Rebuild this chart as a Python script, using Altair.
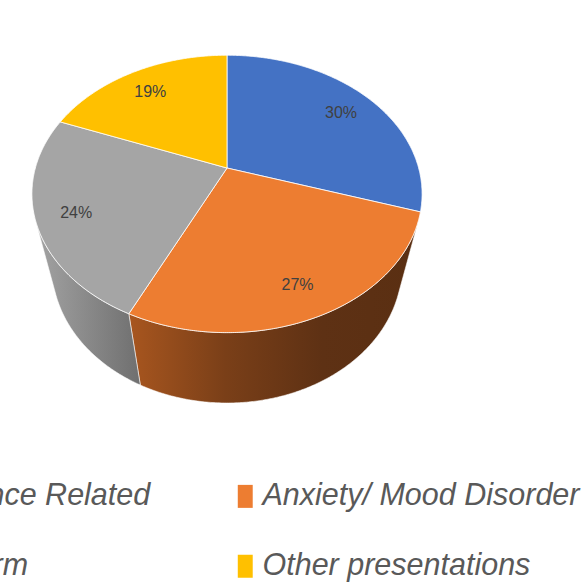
import math
import altair as alt

# Presentation categories and their shares (%)
categories = ["Substance Related", "Anxiety/ Mood Disorder", "Self Harm", "Other presentations"]
shares = [30, 27, 24, 19]

top_colors = ["#4472C4", "#ED7D31", "#A5A5A5", "#FFC000"]
wall_colors = {
    "Substance Related": ["#2F5597", "#203864"],
    "Anxiety/ Mood Disorder": ["#A8561F", "#7A3F18", "#5E3114", "#5A2F12"],
    "Self Harm": ["#A3A3A3", "#6F6F6F"],
    "Other presentations": ["#BF9000", "#7F6000"],
}

# Tilted-disc camera used to project the pie onto the page
TILT = math.radians(44.3)
DIST = 3.83
THICK = 0.607
STEP = math.radians(0.5)
# angle where the side wall turns away from the viewer
SIL = math.acos(-1.0 / (DIST * math.cos(TILT)))


def proj(t, r=1.0, y=0.0):
    x = r * math.sin(t)
    z = r * math.cos(t)
    yv = y * math.cos(TILT) + z * math.sin(TILT)
    d = DIST + z * math.cos(TILT) - y * math.sin(TILT)
    return [x / d, yv / d]


def arc(t0, t1, y=0.0):
    n = max(2, int(abs(t1 - t0) / STEP) + 1)
    return [proj(t0 + (t1 - t0) * k / (n - 1), 1.0, y) for k in range(n)]


total = sum(shares)
tops, walls, labels = [], [], []
start = 0.0
for cat, val in zip(categories, shares):
    t0 = start
    t1 = start + 2 * math.pi * val / total
    start = t1
    ring = [[0.0, 0.0]] + arc(t0, t1) + [[0.0, 0.0]]
    tops.append({"type": "Feature", "properties": {"category": cat},
                 "geometry": {"type": "Polygon", "coordinates": [ring]}})
    a, b = max(t0, SIL), min(t1, 2 * math.pi - SIL)
    if b > a:
        side = arc(a, b) + arc(b, a, -THICK)
        side.append(side[0])
        walls.append((cat, {"type": "Feature", "properties": {"category": cat},
                            "geometry": {"type": "Polygon", "coordinates": [side]}}))
    mid = (t0 + t1) / 2
    lx, ly = proj(mid, 0.8)
    labels.append({"lon": lx, "lat": ly, "text": f"{val}%"})

PROJ = dict(type="identity", scale=734, translate=[227, 168], reflectY=True)

layers = []
for cat, feat in walls:
    cols = wall_colors[cat]
    stops = [alt.GradientStop(color=c, offset=i / (len(cols) - 1)) for i, c in enumerate(cols)]
    layers.append(
        alt.Chart(alt.InlineData(values=[feat]))
        .mark_geoshape(
            fill=alt.Gradient(gradient="linear", stops=stops, x1=0, x2=1, y1=0, y2=0),
            stroke="#ffffff", strokeWidth=0.8, strokeOpacity=0.7,
        )
        .encode(opacity=alt.value(1))
        .project(**PROJ)
    )

top_layer = (
    alt.Chart(alt.InlineData(values=tops))
    .mark_geoshape(stroke="#ffffff", strokeWidth=1, strokeOpacity=0.8)
    .encode(
        color=alt.Color(
            "properties.category:N",
            scale=alt.Scale(domain=categories, range=top_colors),
            sort=None,
            legend=alt.Legend(
                title=None,
                orient="none",
                legendX=-140,
                legendY=481,
                direction="horizontal",
                columns=2,
                gridAlign="each",
                columnPadding=79,
                rowPadding=39,
                padding=0,
                symbolType="M-0.65,-1L0.65,-1L0.65,1L-0.65,1Z",
                symbolSize=529,
                symbolStrokeWidth=0,
                symbolOpacity=1,
                labelOffset=2,
                labelFont="Liberation Sans",
                labelFontStyle="italic",
                labelFontSize=30.5,
                labelColor="#595959",
                labelLimit=800,
            ),
        )
    )
    .project(**PROJ)
)
layers.append(top_layer)

text_layer = (
    alt.Chart(alt.InlineData(values=labels))
    .mark_text(font="Liberation Sans", fontSize=16, color="#404040", dy=3)
    .encode(longitude="lon:Q", latitude="lat:Q", text="text:N")
    .project(**PROJ)
)
layers.append(text_layer)

chart = (
    alt.layer(*layers)
    .properties(width=585, height=585, autosize=alt.AutoSizeParams(type="none"), padding=0,
                background="#ffffff")
    .configure_view(stroke=None)
)

chart.save("out.html", embed_options={"renderer": "svg", "actions": False})
